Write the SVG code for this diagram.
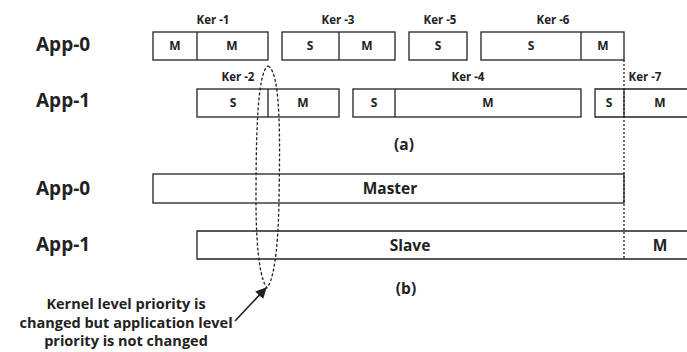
<svg xmlns="http://www.w3.org/2000/svg" width="687" height="352" viewBox="0 0 687 352">
<defs>
<style>
.b{fill:#fff;stroke:#222;stroke-width:1.3}
.d{stroke:#222;stroke-width:1.3}
.t{font-family:"Open Sans","Noto Sans",sans-serif;font-weight:bold;fill:#222;text-anchor:middle}
.s{font-size:12px}
.k{font-size:11.5px}
.a{font-size:19px;text-anchor:start}
.c{font-size:15.5px}
.n{font-size:14.5px}
</style>
<marker id="ah" markerWidth="11" markerHeight="11" refX="10" refY="5.5" orient="auto" markerUnits="userSpaceOnUse"><path d="M0,0 L11,5.5 L0,11 Z" fill="#222"/></marker>
</defs>
<g id="labels">
<text class="t a" x="36" y="51">App-0</text>
<text class="t a" x="36" y="107">App-1</text>
<text class="t a" x="36" y="195">App-0</text>
<text class="t a" x="36" y="251">App-1</text>
<text class="t c" x="404" y="150">(a)</text>
<text class="t c" x="406" y="294">(b)</text>
</g>
<g id="ker1"><rect class="b" x="153" y="32" width="115" height="28"/><line class="d" x1="197" y1="32" x2="197" y2="60"/><text class="t s" x="175" y="50">M</text><text class="t s" x="232" y="50">M</text><text class="t k" x="213" y="24">Ker -1</text></g>
<g id="ker3"><rect class="b" x="282" y="32" width="113" height="28"/><line class="d" x1="339" y1="32" x2="339" y2="60"/><text class="t s" x="310" y="50">S</text><text class="t s" x="367" y="50">M</text><text class="t k" x="338" y="24">Ker -3</text></g>
<g id="ker5"><rect class="b" x="409" y="32" width="58" height="28"/><text class="t s" x="438" y="50">S</text><text class="t k" x="440" y="24">Ker -5</text></g>
<g id="ker6"><rect class="b" x="481" y="32" width="143" height="28"/><line class="d" x1="581" y1="32" x2="581" y2="60"/><text class="t s" x="531" y="50">S</text><text class="t s" x="603" y="50">M</text><text class="t k" x="553" y="24">Ker -6</text></g>
<g id="ker2"><rect class="b" x="197" y="89" width="142" height="28"/><line class="d" x1="268" y1="89" x2="268" y2="117"/><text class="t s" x="233" y="107">S</text><text class="t s" x="303" y="107">M</text><text class="t k" x="238" y="81">Ker -2</text></g>
<g id="ker4"><rect class="b" x="353" y="89" width="228" height="28"/><line class="d" x1="395" y1="89" x2="395" y2="117"/><text class="t s" x="374" y="107">S</text><text class="t s" x="488" y="107">M</text><text class="t k" x="468" y="81">Ker -4</text></g>
<g id="ker7"><path class="b" d="M688,89 H595 V117 H688"/><line class="d" x1="624" y1="89" x2="624" y2="117"/><text class="t s" x="609" y="107">S</text><text class="t s" x="660" y="107">M</text><text class="t k" x="645" y="81">Ker -7</text></g>
<g id="master"><rect class="b" x="153" y="174" width="471" height="29"/><text class="t c" x="390" y="194">Master</text></g>
<g id="slave"><path class="b" d="M688,231 H197 V259 H688"/><text class="t c" x="410" y="251">Slave</text><text class="t c" x="660" y="251">M</text></g>
<g id="connectors">
<line x1="624" y1="60" x2="624" y2="259" stroke="#222" stroke-width="1.3" stroke-dasharray="2,2"/>
<path d="M268,66 C281,72 280,140 279,200 C278,260 272,282 267,288 C262,282 256,260 256,200 C256,140 257,72 268,66 Z" fill="none" stroke="#222" stroke-width="1.3" stroke-dasharray="3,2"/>
<line x1="235" y1="321" x2="266" y2="288" stroke="#222" stroke-width="1.6" marker-end="url(#ah)"/>
</g>
<g id="note">
<text class="t n" x="126" y="309">Kernel level priority is</text>
<text class="t n" x="126" y="328">changed but application level</text>
<text class="t n" x="126" y="346">priority is not changed</text>
</g>
</svg>
